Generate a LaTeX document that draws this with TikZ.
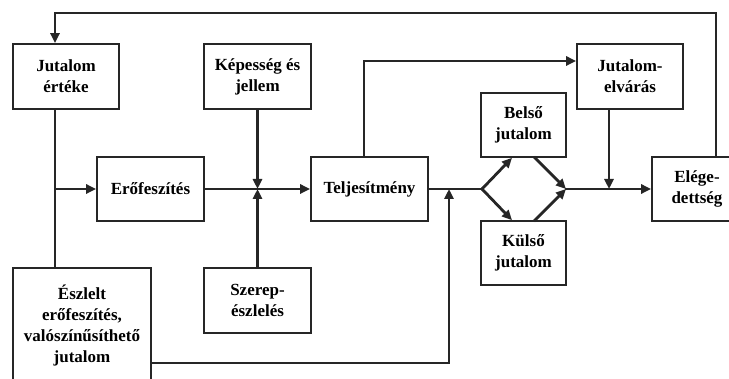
\documentclass[tikz,border=0pt]{standalone}
\usepackage{fontspec}
\setmainfont{Liberation Serif}
\usepackage{tikz}
\usetikzlibrary{arrows.meta,positioning,calc}

\begin{document}
\begin{tikzpicture}[x=1pt, y=-1pt,
    box/.style={draw=black!85, line width=1.6pt, fill=white, align=center,
        font=\bfseries\fontsize{17}{21}\selectfont, inner sep=2pt},
    conn/.style={draw=black!85, line width=2.8pt, line cap=rect},
    arr/.style={conn, -{Triangle[length=10pt, width=9pt]}}]

\useasboundingbox (0,0) rectangle (729,379);

% Boxes
\node[box, minimum width=106pt, minimum height=65pt] (ert) at (66,76.5) {Jutalom\\értéke};
\node[box, minimum width=107pt, minimum height=65pt] (kep) at (257.5,76.5) {Képesség és\\jellem};
\node[box, minimum width=106pt, minimum height=65pt] (jel) at (630,76.5) {Jutalom-\\elvárás};
\node[box, minimum width=107pt, minimum height=64pt] (ero) at (150.5,189) {Erőfeszítés};
\node[box, minimum width=117pt, minimum height=64pt] (tel) at (369.5,189) {Teljesítmény};
\node[box, minimum width=85pt, minimum height=64pt] (bel) at (523.5,125) {Belső\\jutalom};
\node[box, minimum width=85pt, minimum height=64pt] (kul) at (523.5,253) {Külső\\jutalom};
\node[box, minimum width=90pt, minimum height=64pt] (ele) at (697,189) {Elége-\\dettség};
\node[box, minimum width=107pt, minimum height=65pt] (sze) at (257.5,300.5) {Szerep-\\észlelés};
\node[box, minimum width=138pt, minimum height=116pt] (esz) at (82,326) {Észlelt\\erőfeszítés,\\valószínűsíthető\\jutalom};

% Junctions
\coordinate (fbr) at (716,13);
\coordinate (fbl) at (55,13);
\coordinate (jn) at (kep.south |- ero.east);
\coordinate (tu) at (364,61);
\coordinate (split) at (482,189);
\coordinate (merge) at (566,189);
\coordinate (ep) at (449,363);

% Feedback loop
\draw[arr] (ele.north -| fbr) -- (fbr) -- (fbl) -- (ert.north -| fbl);
\draw[conn] (ert.south -| fbl) -- (esz.north -| fbl);
\draw[arr] (ero.west -| fbl) -- (ero.west);

% Main line
\draw[conn] (ero.east) -- (jn);
\draw[arr] (jn) -- (tel.west);
\draw[arr] (kep.south) -- (jn);
\draw[arr] (sze.north) -- (jn);
\draw[arr] (tel.north -| tu) |- (jel.west |- tu);
\draw[conn] (tel.east) -- (split);
\draw[arr] (esz.east |- ep) -- (ep) -- (ep |- tel.east);

% Rewards
\draw[arr] (split) -- (bel.south -| 512,0);
\draw[arr] (split) -- (kul.north -| 512,0);
\draw[arr] (bel.south -| 535,0) -- (merge);
\draw[arr] (kul.north -| 535,0) -- (merge);
\draw[arr] (merge) -- (ele.west);
\draw[arr] (jel.south -| 609,0) -- (609,189);

\end{tikzpicture}
\end{document}
